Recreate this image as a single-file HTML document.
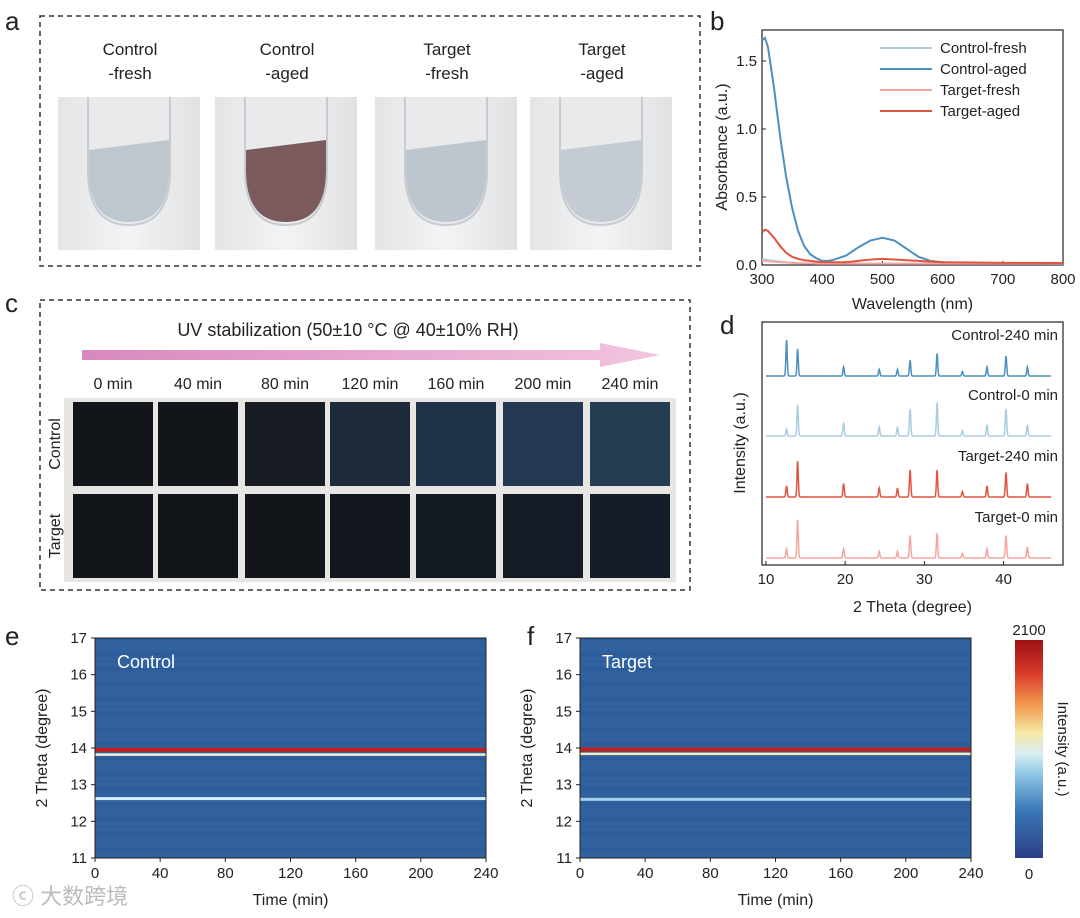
<!DOCTYPE html>
<html><head><meta charset="utf-8"><style>
body{margin:0;background:#fff;}
svg{display:block;font-family:"Liberation Sans","Noto Sans CJK SC",sans-serif;}
</style></head><body>
<svg id="fig" width="1080" height="918" viewBox="0 0 1080 918">
<defs>
<linearGradient id="cbar" x1="0" y1="0" x2="0" y2="1">
<stop offset="0" stop-color="#9e0f14"/><stop offset="0.15" stop-color="#d83a2a"/><stop offset="0.3" stop-color="#f29a50"/><stop offset="0.42" stop-color="#f7e6a0"/><stop offset="0.52" stop-color="#d8eef2"/><stop offset="0.62" stop-color="#8cc4e4"/><stop offset="0.78" stop-color="#3b78b8"/><stop offset="1" stop-color="#2a3f86"/>
</linearGradient>
<linearGradient id="photo" x1="0" y1="0" x2="1" y2="0"><stop offset="0" stop-color="#e2e4e6"/><stop offset="0.5" stop-color="#f3f4f5"/><stop offset="1" stop-color="#dfe1e3"/></linearGradient>
<linearGradient id="arrowg" x1="0" y1="0" x2="1" y2="0"><stop offset="0" stop-color="#d889c0"/><stop offset="1" stop-color="#f2c4de"/></linearGradient>
</defs>
<g font-size="26" fill="#222">
<text x="5" y="30">a</text>
<text x="710" y="30">b</text>
<text x="5" y="312">c</text>
<text x="720" y="334">d</text>
<text x="5" y="645">e</text>
<text x="527" y="645">f</text>
</g>
<rect x="40" y="16" width="660" height="250" fill="none" stroke="#333" stroke-width="1.5" stroke-dasharray="5,4"/>
<g id="photos"></g>
<g id="pb"></g>
<rect x="40" y="300" width="650" height="290" fill="none" stroke="#333" stroke-width="1.5" stroke-dasharray="5,4"/>
<text x="348" y="336" font-size="18" text-anchor="middle" fill="#222">UV stabilization (50±10 °C @ 40±10% RH)</text>
<polygon points="82,350 600,350 600,343 660,355 600,367 600,360 82,360" fill="url(#arrowg)"/>
<g id="pc"></g>
<g id="pd"></g>
<g id="pe"></g>
<g id="pf"></g>
<rect x="1015" y="640" width="28" height="218" fill="url(#cbar)"/>
<text x="1029" y="635" font-size="15" text-anchor="middle" fill="#222">2100</text>
<text x="1029" y="879" font-size="15" text-anchor="middle" fill="#222">0</text>
<text transform="translate(1058,749) rotate(90)" font-size="15" text-anchor="middle" fill="#222">Intensity (a.u.)</text>
<text x="12" y="904" font-size="22" fill="#bbb">ⓒ 大数跨境</text>
</svg>
<script>
const NS="http://www.w3.org/2000/svg";
function mk(p,t,a){const e=document.createElementNS(NS,t);for(const k in a)e.setAttribute(k,a[k]);p.appendChild(e);return e;}
function tx(p,x,y,s,a){const e=mk(p,'text',Object.assign({x:x,y:y,'font-size':15,fill:'#222'},a||{}));e.textContent=s;return e;}

// ---- Panel a photos
const photoLabels=[["Control","-fresh"],["Control","-aged"],["Target","-fresh"],["Target","-aged"]];
const photoX=[58,215,375,530];
const liquidColors=["#b9c3cb","#6e4a4c","#b8c2ca","#c0c8d0"];
const gA=document.getElementById('photos');
photoLabels.forEach((l,i)=>{
  const x=photoX[i];
  let g=mk(gA,'g',{});
  
  
  mk(g,'rect',{x:x,y:97,width:142,height:153,fill:'url(#photo)'});
  mk(g,'path',{d:`M${x+30},97 L${x+30},170 Q${x+30},225 ${x+71},225 Q${x+112},225 ${x+112},170 L${x+112},97`,fill:'#e8eaec',stroke:'#c8ccd0','stroke-width':2});
  mk(g,'path',{d:`M${x+31},150 L${x+111},140 L${x+111},170 Q${x+111},222 ${x+71},222 Q${x+31},222 ${x+31},170 Z`,fill:liquidColors[i],opacity:0.9});
  tx(gA,x+72,55,l[0],{'text-anchor':'middle','font-size':17});
  tx(gA,x+72,79,l[1],{'text-anchor':'middle','font-size':17});
});

// ---- Panel b absorbance
const wl=[300,305,310,320,330,340,350,360,370,380,390,400,410,420,440,460,480,500,520,540,560,580,600,650,700,800];
const ctrlAged=[1.65,1.67,1.6,1.3,0.95,0.65,0.42,0.25,0.14,0.08,0.05,0.03,0.03,0.04,0.07,0.13,0.18,0.2,0.18,0.12,0.06,0.03,0.02,0.015,0.012,0.01];
const tgtAged=[0.24,0.26,0.25,0.2,0.14,0.09,0.06,0.045,0.035,0.03,0.025,0.02,0.02,0.02,0.02,0.03,0.04,0.045,0.04,0.035,0.03,0.025,0.02,0.018,0.016,0.015];
const ctrlFresh=[0.04,0.04,0.035,0.03,0.025,0.02,0.018,0.015,0.013,0.012,0.011,0.01,0.01,0.01,0.01,0.01,0.01,0.01,0.01,0.01,0.01,0.01,0.01,0.01,0.01,0.01];
const tgtFresh=[0.03,0.03,0.028,0.024,0.02,0.018,0.016,0.014,0.012,0.011,0.01,0.01,0.01,0.01,0.01,0.01,0.01,0.01,0.01,0.01,0.01,0.01,0.01,0.01,0.01,0.01];
const bXTicks=[300,400,500,600,700,800];
const bYTicks=[0.0,0.5,1.0,1.5];
const bSeries=[["Control-fresh",ctrlFresh,"#a9cde0"],["Control-aged",ctrlAged,"#4d8fbd"],["Target-fresh",tgtFresh,"#f4a7a0"],["Target-aged",tgtAged,"#e0553f"]];
(function(){
  const g=document.getElementById('pb');
  const L=762,R=1063,T=30,B=265;
  const bx=v=>L+(v-300)/500*(R-L), by=v=>B-v/0.5*68;
  mk(g,'rect',{x:L,y:T,width:R-L,height:B-T,fill:'none',stroke:'#222','stroke-width':1.2});
  bXTicks.forEach(t=>{mk(g,'line',{x1:bx(t),x2:bx(t),y1:B,y2:B-4,stroke:'#222'});tx(g,bx(t),B+19,String(t),{'text-anchor':'middle'});});
  bYTicks.forEach(t=>{mk(g,'line',{x1:L,x2:L+4,y1:by(t),y2:by(t),stroke:'#222'});tx(g,L-5,by(t)+5,t.toFixed(1),{'text-anchor':'end'});});
  tx(g,(L+R)/2,B+44,'Wavelength (nm)',{'text-anchor':'middle','font-size':16});
  let yt=tx(g,0,0,'Absorbance (a.u.)',{'text-anchor':'middle','font-size':16,transform:`translate(727,147) rotate(-90)`});
  bSeries.forEach((s,i)=>{
    const p=mk(g,'polyline',{points:wl.map((w,j)=>bx(w)+','+by(s[1][j])).join(' '),fill:'none',stroke:s[2],'stroke-width':2});
    
    
    const y=48+i*21;
    mk(g,'line',{x1:880,x2:932,y1:y,y2:y,stroke:s[2],'stroke-width':2});
    const lt=tx(g,940,y+5,s[0]);
    
    
  });
})();

// ---- Panel c films
const times=["0 min","40 min","80 min","120 min","160 min","200 min","240 min"];
const colX=[73,158,245,330,416,503,590];
const ctrlFilm=["#121519","#12161a","#171c22","#1d2a3a","#20324a","#233852","#243d52"];
const tgtFilm=["#111418","#111418","#121519","#131820","#141a22","#141b25","#161d2a"];
(function(){
  const g=document.getElementById('pc');
  mk(g,'rect',{x:64,y:398,width:612,height:184,fill:'#e8e6e2'});
  times.forEach((t,i)=>{
    tx(g,colX[i]+40,389,t,{'text-anchor':'middle','font-size':16});
    let r=mk(g,'rect',{x:colX[i],y:402,width:80,height:84,fill:ctrlFilm[i]});
    
    r=mk(g,'rect',{x:colX[i],y:494,width:80,height:84,fill:tgtFilm[i]});
    
  });
  tx(g,0,0,'Control',{'font-size':16,'text-anchor':'middle',transform:'translate(60,444) rotate(-90)'});
  tx(g,0,0,'Target',{'font-size':16,'text-anchor':'middle',transform:'translate(60,536) rotate(-90)'});
})();

// ---- Panel d XRD
const peakPos=[12.6,14.0,19.8,24.3,26.6,28.2,31.6,34.8,37.9,40.3,43.0];
const ctrl240=[0.8,0.6,0.2,0.15,0.15,0.35,0.5,0.1,0.2,0.45,0.2];
const ctrl0=[0.15,0.7,0.3,0.2,0.2,0.6,0.75,0.12,0.25,0.6,0.25];
const tgt240=[0.25,0.8,0.3,0.2,0.2,0.6,0.6,0.12,0.25,0.55,0.3];
const tgt0=[0.2,0.85,0.2,0.15,0.15,0.5,0.55,0.1,0.2,0.5,0.25];
const dXTicks=[10,20,30,40];
const dSeries=[["Control-240 min",ctrl240,"#4d8fbd",376],["Control-0 min",ctrl0,"#a9cde0",436],["Target-240 min",tgt240,"#e0553f",497],["Target-0 min",tgt0,"#f4a7a0",558]];
(function(){
  const g=document.getElementById('pd');
  const L=762,R=1063,T=322,B=565;
  const dx=v=>L+(v-9.5)/(47.5-9.5)*(R-L);
  mk(g,'rect',{x:L,y:T,width:R-L,height:B-T,fill:'none',stroke:'#222','stroke-width':1.2});
  dXTicks.forEach(t=>{mk(g,'line',{x1:dx(t),x2:dx(t),y1:B,y2:B-4,stroke:'#222'});tx(g,dx(t),B+19,String(t),{'text-anchor':'middle'});});
  tx(g,(L+R)/2,B+47,'2 Theta (degree)',{'text-anchor':'middle','font-size':16});
  tx(g,0,0,'Intensity (a.u.)',{'text-anchor':'middle','font-size':16,transform:'translate(745,443) rotate(-90)'});
  dSeries.forEach(s=>{
    const base=s[3];let pts=[];
    for(let th=10;th<=46;th+=0.05){
      let v=0;peakPos.forEach((p,j)=>{v+=s[1][j]*Math.exp(-Math.pow((th-p)/0.12,2));});
      pts.push(dx(th).toFixed(1)+','+(base-v*45).toFixed(1));
    }
    const p=mk(g,'polyline',{points:pts.join(' '),fill:'none',stroke:s[2],'stroke-width':1.5});
    
    
    tx(g,1058,base-36,s[0],{'text-anchor':'end'});
  });
})();

// ---- Panels e/f heatmaps
const hmYTicks=[11,12,13,14,15,16,17];
const hmXTicks=[0,40,80,120,160,200,240];
const ctrlLines=[[13.95,"#c0201c",4],[13.82,"#f4f0d8",2.5],[12.62,"#d8eef4",3]];
const tgtLines=[[13.96,"#c0201c",4],[13.84,"#f8e8c0",2.5],[12.6,"#a8d0ea",3]];
function heat(id,L,label,lines){
  const g=document.getElementById(id);
  const R=L+391,T=638,B=858;
  const hy=v=>B-(v-11)/6*(B-T), hx=v=>L+v/240*(R-L);
  mk(g,'rect',{x:L,y:T,width:R-L,height:B-T,fill:'#2f5f9d'});
  for(let i=0;i<44;i++){mk(g,'rect',{x:L,y:T+i*5,width:R-L,height:2,fill:(i%3?'#3567a6':'#2b5894'),opacity:0.5});}
  lines.forEach(l=>{
    const r=mk(g,'rect',{x:L,y:hy(l[0])-l[2]/2,width:R-L,height:l[2],fill:l[1]});
    
  });
  mk(g,'rect',{x:L,y:T,width:R-L,height:B-T,fill:'none',stroke:'#222','stroke-width':1});
  hmYTicks.forEach(t=>{mk(g,'line',{x1:L,x2:L-4,y1:hy(t),y2:hy(t),stroke:'#222'});tx(g,L-8,hy(t)+5,String(t),{'text-anchor':'end'});});
  hmXTicks.forEach(t=>{mk(g,'line',{x1:hx(t),x2:hx(t),y1:B,y2:B+4,stroke:'#222'});tx(g,hx(t),B+20,String(t),{'text-anchor':'middle'});});
  tx(g,(L+R)/2,B+47,'Time (min)',{'text-anchor':'middle','font-size':16});
  tx(g,0,0,'2 Theta (degree)',{'text-anchor':'middle','font-size':16,transform:`translate(${L-48},${(T+B)/2}) rotate(-90)`});
  tx(g,L+22,T+30,label,{'font-size':18,fill:'#fff'});
}
heat('pe',95,'Control',ctrlLines);
heat('pf',580,'Target',tgtLines);
</script>
</body></html>
